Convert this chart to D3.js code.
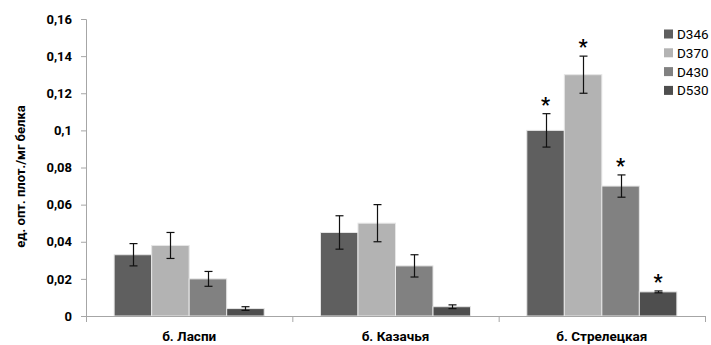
<!DOCTYPE html>
<html><head><meta charset="utf-8">
<script src="https://cdn.jsdelivr.net/npm/d3@7"></script>
<style>body{margin:0;background:#fff}</style>
</head><body>
<svg id="c" width="711" height="345"></svg>
<script>
const categories = ["б. Ласпи", "б. Казачья", "б. Стрелецкая"];
const seriesNames = ["D346", "D370", "D430", "D530"];
const values = {
  D346: [0.033, 0.045, 0.100],
  D370: [0.038, 0.050, 0.130],
  D430: [0.020, 0.027, 0.070],
  D530: [0.004, 0.005, 0.013]
};
const errors = {
  D346: [0.006, 0.009, 0.009],
  D370: [0.007, 0.010, 0.010],
  D430: [0.004, 0.006, 0.006],
  D530: [0.001, 0.001, 0.0005]
};
const significant = {
  D346: [false, false, true],
  D370: [false, false, true],
  D430: [false, false, true],
  D530: [false, false, true]
};
const yTicks = [0, 0.02, 0.04, 0.06, 0.08, 0.1, 0.12, 0.14, 0.16];
const yTickLabels = ["0", "0,02", "0,04", "0,06", "0,08", "0,1", "0,12", "0,14", "0,16"];
const colors = ["#5f5f5f", "#b3b3b3", "#818181", "#4e4e4e"];
const yLabel = "ед. опт. плот./мг белка";

(function () {
const svg = d3.select("#c");
const mL = 86, mR = 705, mT = 19, mB = 316;
const font = "Roboto, 'Liberation Sans', sans-serif";

const y = d3.scaleLinear().domain([0, 0.16]).range([mB, mT]);
const x0 = d3.scaleBand().domain(categories).range([mL, mR]).paddingInner(0).paddingOuter(0);
const x1 = d3.scaleBand().domain(seriesNames).range([0, x0.bandwidth()]).paddingInner(0).paddingOuter(0.75);
const color = d3.scaleOrdinal().domain(seriesNames).range(colors);

// y axis
const yAxis = d3.axisLeft(y).tickValues(yTicks).tickSize(5).tickFormat((d, i) => yTickLabels[i]);
const gy = svg.append("g").attr("transform", `translate(${mL},0)`).call(yAxis);
gy.select(".domain").attr("stroke", "#a6a6a6");
gy.selectAll(".tick line").attr("stroke", "#a6a6a6");
gy.selectAll(".tick text").attr("font-family", font).attr("font-weight", "bold").attr("font-size", 13).attr("fill", "#000").attr("x", -14);

// bars
const data = [];
categories.forEach((c, ci) => seriesNames.forEach(s => data.push({c, s, v: values[s][ci], e: errors[s][ci], sig: significant[s][ci]})));

svg.append("g").selectAll("rect").data(data).join("rect")
  .attr("x", d => x0(d.c) + x1(d.s))
  .attr("y", d => y(d.v))
  .attr("width", x1.bandwidth())
  .attr("height", d => y(0) - y(d.v))
  .attr("fill", d => color(d.s))
  .attr("stroke", "#e6e6e6").attr("stroke-width", 1);

// error bars
const eb = svg.append("g").attr("stroke", "#111").attr("stroke-width", 1.2);
data.forEach(d => {
  const cx = Math.round(x0(d.c) + x1(d.s) + x1.bandwidth() / 2) + 0.5;
  eb.append("line").attr("x1", cx).attr("x2", cx).attr("y1", y(d.v + d.e)).attr("y2", y(d.v - d.e));
  eb.append("line").attr("x1", cx - 4).attr("x2", cx + 4).attr("y1", y(d.v + d.e)).attr("y2", y(d.v + d.e));
  eb.append("line").attr("x1", cx - 4).attr("x2", cx + 4).attr("y1", y(d.v - d.e)).attr("y2", y(d.v - d.e));
});

// stars
svg.append("g").selectAll("text").data(data.filter(d => d.sig)).join("text")
  .attr("x", d => x0(d.c) + x1(d.s) + x1.bandwidth() / 2)
  .attr("y", d => y(d.v + d.e) - 2)
  .attr("text-anchor", "middle")
  .attr("font-family", font).attr("font-weight", "bold").attr("font-size", 20)
  .attr("fill", "#000").text("*");

// x axis
const xAxis = d3.axisBottom(x0).tickSize(0).tickFormat(d => d);
const gx = svg.append("g").attr("transform", `translate(0,${mB})`).call(xAxis);
gx.select(".domain").attr("stroke", "#a6a6a6");
gx.selectAll(".tick text").attr("font-family", font).attr("font-weight", "bold").attr("font-size", 13.5).attr("fill", "#000").attr("dy", 0).attr("y", 25);
const bounds = categories.map(c => x0(c)).concat([mR]);
gx.selectAll(".bt").data(bounds).join("line").attr("class", "bt")
  .attr("x1", d => d + 0.5).attr("x2", d => d + 0.5).attr("y1", 0).attr("y2", 6).attr("stroke", "#a6a6a6");

// y label
svg.append("text").attr("transform", `translate(25,${(mT + mB) / 2 + 9}) rotate(-90)`)
  .attr("text-anchor", "middle").attr("font-family", font).attr("font-weight", "bold").attr("font-size", 13)
  .attr("fill", "#000").text(yLabel);

// legend
const lg = svg.append("g").attr("transform", "translate(664,29.5)");
seriesNames.forEach((s, i) => {
  const g = lg.append("g").attr("transform", `translate(0,${i * 18.8})`);
  g.append("rect").attr("width", 9).attr("height", 9).attr("fill", color(s));
  g.append("text").attr("x", 13).attr("y", 9.5).attr("font-family", font).attr("font-size", 13.5).attr("fill", "#000").text(s);
});
})();
</script>
</body></html>
